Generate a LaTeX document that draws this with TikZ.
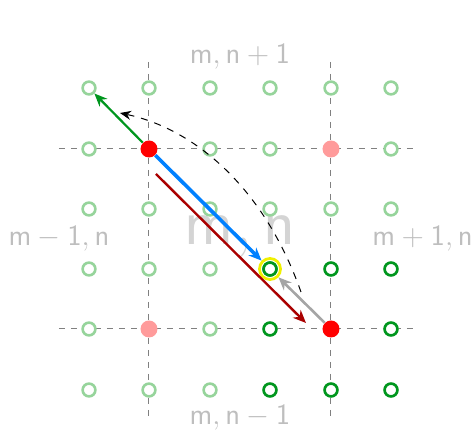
\RequirePackage{fix-cm}
\documentclass[tikz,border=0pt]{standalone}
\usetikzlibrary{arrows.meta}
\definecolor{lgreen}{RGB}{150,212,155}
\definecolor{dgreen}{RGB}{0,150,30}
\definecolor{pinkr}{RGB}{255,155,155}
\definecolor{arrblue}{RGB}{0,128,255}
\definecolor{darkred}{RGB}{170,0,0}
\definecolor{arrgray}{RGB}{165,165,165}
\definecolor{lblgray}{RGB}{190,190,190}
\definecolor{biggray}{RGB}{212,212,212}
\definecolor{yel}{RGB}{240,240,0}
\tikzset{
  pt/.style={circle,draw=lgreen,line width=1.3pt,minimum size=6.4pt,inner sep=0pt,fill=white},
  ptd/.style={pt,draw=dgreen},
  ptred/.style={circle,fill=red,minimum size=8.5pt,inner sep=0pt},
  ptpink/.style={circle,fill=pinkr,minimum size=8.5pt,inner sep=0pt},
  gridline/.style={gray,line width=0.5pt,dash pattern=on 3pt off 3pt},
  lbl/.style={text=lblgray,font=\fontsize{14.7}{17}\selectfont,inner sep=0pt},
  arr/.style={-{Stealth[length=6.5pt,width=5.5pt]},line width=1.1pt},
}
\begin{document}
\begin{tikzpicture}[x=0.5pt,y=-0.5pt]
\useasboundingbox (0,0) rectangle (473,432);
% grid lines
\draw[gridline] (59,149) -- (418,149);
\draw[gridline] (59,329) -- (418,329);
\draw[gridline] (149,62) -- (149,421);
\draw[gridline] (331,62) -- (331,421);
% labels
\node[lbl] (top) at (240,57) {$\mathsf{m, n+1}$};
\node[lbl] (left) at (59,239) {$\mathsf{m-1, n}$};
\node[lbl,anchor=west] (right) at (372,239) {$\mathsf{m+1, n}$};
\node[lbl] (bot) at (240,418) {$\mathsf{m, n-1}$};
\node[text=biggray,font=\fontsize{33}{36}\selectfont,inner sep=0pt] (big) at (240,237) {$\mathsf{m, n}$};
% points
\foreach \i/\x in {0/89,1/149,2/210,3/270,4/331,5/391}{
  \foreach \j/\y in {0/88,1/149,2/209,3/269,4/329,5/390}{
    \node[pt] (c\i\j) at (\x,\y) {};
  }
}
\foreach \i/\j in {3/3,4/3,5/3,3/4,5/4,3/5,4/5,5/5}{
  \node[ptd] at (c\i\j) {};
}
\node[circle,draw=yel,line width=1.4pt,minimum size=10.5pt,inner sep=0pt] (yl) at (c33) {};
\node[ptd] (tgt) at (c33) {};
\node[ptred] (r1) at (c11) {};
\node[ptred] (r2) at (c44) {};
\node[ptpink] (p1) at (c41) {};
\node[ptpink] (p2) at (c14) {};
% arrows
\draw[arr,dgreen] (r1) -- (c00);
\draw[arr,arrblue,line width=1.8pt] (r1) -- (yl);
\draw[arr,arrgray,line width=1.3pt] (r2) -- (yl);
\coordinate (dr1) at (156,174);
\coordinate (dr2) at (306,323);
\draw[arr,darkred,line width=1.2pt] (dr1) -- (dr2);
\coordinate (ds1) at (301,292);
\coordinate (ds2) at (120,113);
\draw[-{Stealth[length=5.5pt,width=4.5pt]},black,line width=0.5pt,dash pattern=on 3.5pt off 3.5pt]
  (ds1) .. controls (262,182) and (190,128) .. (ds2);
\end{tikzpicture}
\end{document}
